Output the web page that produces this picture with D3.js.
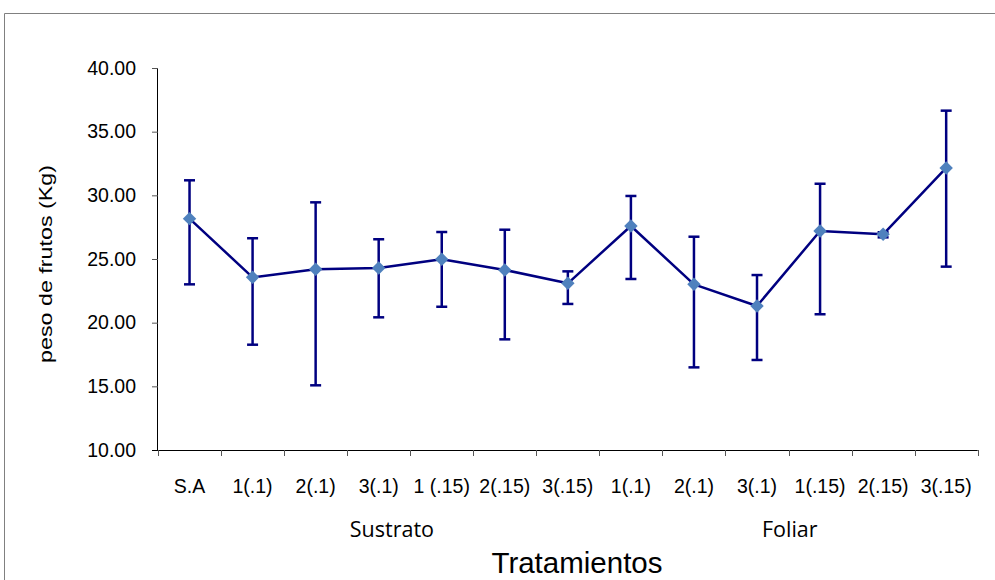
<!DOCTYPE html>
<html>
<head>
<meta charset="utf-8">
<script src="https://cdn.jsdelivr.net/npm/d3@7"></script>
<style>
  html, body { margin: 0; padding: 0; background: #fff; }
  svg { display: block; }
</style>
</head>
<body>
<svg id="chart" width="995" height="580"></svg>
<script>
// Treatment labels along the x axis (first seven: substrate, last six: foliar)
const categories = ["S.A", "1(.1)", "2(.1)", "3(.1)", "1 (.15)", "2(.15)", "3(.15)",
                    "1(.1)", "2(.1)", "3(.1)", "1(.15)", "2(.15)", "3(.15)"];
// Mean fruit weight (kg) per treatment
const means = [28.17, 23.56, 24.19, 24.29, 24.98, 24.14, 23.09, 27.59, 23.01, 21.31, 27.20, 26.94, 32.15];
// Upper and lower ends of the error bars
const highs = [31.18, 26.63, 29.45, 26.55, 27.12, 27.30, 24.03, 29.95, 26.75, 23.74, 30.91, 27.10, 36.65];
const lows  = [23.01, 18.27, 15.08, 20.42, 21.25, 18.69, 21.47, 23.43, 16.49, 17.07, 20.66, 26.70, 24.40];
// Y axis tick values
const yTicks = [10, 15, 20, 25, 30, 35, 40];
// Group captions and their position along the axis (in category steps)
const groups = ["Sustrato", "Foliar"];
const groupPos = [3.71, 10.02];

const svg = d3.select("#chart");
const W = 995, H = 580;
const plotL = 158, plotR = 977.7, plotT = 68, plotB = 450;

// Outer frame of the chart area
svg.append("path")
  .attr("d", `M4.5,${H} V13.5 H${W}`)
  .attr("fill", "none")
  .attr("stroke", "#808080")
  .attr("stroke-width", 1);

const x = d3.scaleBand()
  .domain(d3.range(categories.length))
  .range([plotL, plotR])
  .paddingInner(0).paddingOuter(0);

const y = d3.scaleLinear().domain([10, 40]).range([plotB, plotT]);

const fontAxis = "'Liberation Sans', Arial, sans-serif";

// Y axis
const yAxis = svg.append("g")
  .attr("transform", `translate(${plotL},0)`)
  .call(d3.axisLeft(y).tickValues(yTicks).tickFormat(d3.format(".2f")).tickSize(6).tickPadding(16));
yAxis.select(".domain").attr("stroke", "#000").attr("d", `M-0.5,${plotT}V${plotB}`);
yAxis.selectAll(".tick line").attr("stroke", "#555");
yAxis.selectAll("text")
  .attr("font-family", fontAxis)
  .attr("font-size", "19.5px")
  .attr("fill", "#000");

// X axis with tick marks on the band boundaries
const xAxis = svg.append("g")
  .attr("transform", `translate(0,${plotB})`);
xAxis.append("line")
  .attr("x1", plotL - 6).attr("x2", plotR)
  .attr("y1", 0.5).attr("y2", 0.5)
  .attr("stroke", "#000");
const bounds = d3.range(categories.length + 1).map(i => plotL + i * x.step());
xAxis.selectAll("line.tk")
  .data(bounds)
  .join("line")
  .attr("class", "tk")
  .attr("x1", d => Math.round(d) + 0.5).attr("x2", d => Math.round(d) + 0.5)
  .attr("y1", 0).attr("y2", 6)
  .attr("stroke", "#555");
xAxis.selectAll("text.lbl")
  .data(categories)
  .join("text")
  .attr("class", "lbl")
  .attr("x", (d, i) => x(i) + x.bandwidth() / 2)
  .attr("y", 43)
  .attr("text-anchor", "middle")
  .attr("font-family", fontAxis)
  .attr("font-size", "19.5px")
  .attr("fill", "#000")
  .text(d => d);

// Group captions
svg.selectAll("text.grp")
  .data(groups)
  .join("text")
  .attr("class", "grp")
  .attr("x", (d, i) => plotL + groupPos[i] * x.step())
  .attr("y", 537)
  .attr("text-anchor", "middle")
  .attr("font-family", "'Open Sans', sans-serif")
  .attr("font-size", "21.5px")
  .attr("fill", "#000")
  .text(d => d);

// Axis titles
svg.append("text")
  .attr("x", 577).attr("y", 573)
  .attr("text-anchor", "middle")
  .attr("font-family", fontAxis)
  .attr("font-size", "29.5px")
  .attr("fill", "#000")
  .text("Tratamientos");

svg.append("text")
  .attr("transform", "translate(52,264) rotate(-90)")
  .attr("text-anchor", "middle")
  .attr("font-family", fontAxis)
  .attr("font-size", "18px")
  .attr("textLength", 198)
  .attr("lengthAdjust", "spacingAndGlyphs")
  .attr("fill", "#000")
  .text("peso de frutos (Kg)");

const cx = i => x(i) + x.bandwidth() / 2;
const navy = "#000080";

// Connecting line
svg.append("path")
  .datum(means)
  .attr("fill", "none")
  .attr("stroke", navy)
  .attr("stroke-width", 2.5)
  .attr("stroke-linejoin", "round")
  .attr("d", d3.line().x((d, i) => cx(i)).y(d => y(d)));

// Error bars
const eb = svg.append("g").attr("stroke", navy).attr("stroke-width", 2.5).attr("fill", "none");
eb.selectAll("line.v")
  .data(means)
  .join("line")
  .attr("class", "v")
  .attr("x1", (d, i) => cx(i)).attr("x2", (d, i) => cx(i))
  .attr("y1", (d, i) => y(highs[i])).attr("y2", (d, i) => y(lows[i]));
eb.selectAll("line.hi")
  .data(highs)
  .join("line")
  .attr("class", "hi")
  .attr("x1", (d, i) => cx(i) - 5.5).attr("x2", (d, i) => cx(i) + 5.5)
  .attr("y1", d => y(d)).attr("y2", d => y(d));
eb.selectAll("line.lo")
  .data(lows)
  .join("line")
  .attr("class", "lo")
  .attr("x1", (d, i) => cx(i) - 5.5).attr("x2", (d, i) => cx(i) + 5.5)
  .attr("y1", d => y(d)).attr("y2", d => y(d));

// Diamond markers
const diamond = d3.symbol().type(d3.symbolDiamond2).size(115);
svg.selectAll("path.mk")
  .data(means)
  .join("path")
  .attr("class", "mk")
  .attr("transform", (d, i) => `translate(${cx(i)},${y(d)})`)
  .attr("d", diamond)
  .attr("fill", "#4F81BD");
</script>
</body>
</html>
